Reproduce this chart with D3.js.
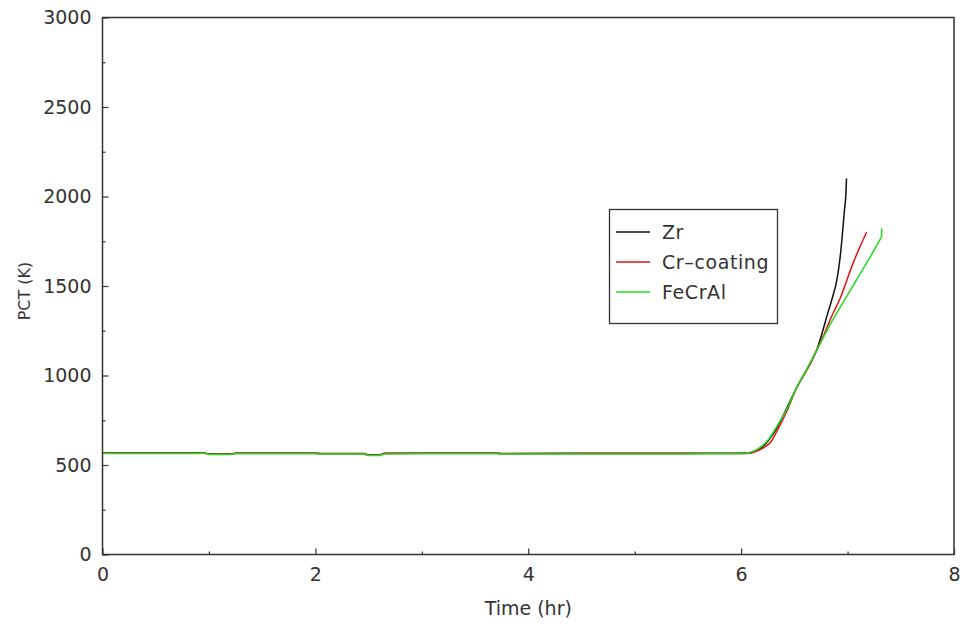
<!DOCTYPE html>
<html>
<head>
<meta charset="utf-8">
<script src="https://cdn.jsdelivr.net/npm/d3@7"></script>
<style>
  html, body { margin: 0; padding: 0; background: #fff; }
  svg { display: block; }
  text { font-family: "DejaVu Sans", sans-serif; fill: #333; }
</style>
</head>
<body>
<svg id="chart" width="963" height="626"></svg>
<script>
// ---- data ----
const seriesNames = ["Zr", "Cr\u2013coating", "FeCrAl"];
const seriesColors = ["#111111", "#dd1515", "#22dd22"];

const zrTime = [0, 0.5, 0.9, 0.95, 1.0, 1.2, 1.25, 2.0, 2.05, 2.45, 2.5, 2.6, 2.65, 3.0, 3.7, 3.75, 4.5, 5.0, 5.5, 6.0, 6.08, 6.15, 6.22, 6.3, 6.4, 6.52, 6.62, 6.71, 6.76, 6.81, 6.86, 6.90, 6.93, 6.95, 6.97, 6.985, 6.99];
const zrPCT  = [567, 567, 567, 569, 561, 561, 566, 566, 564, 564, 556, 556, 565, 566, 566, 564, 565, 565, 565, 566, 568, 582, 612, 672, 782, 930, 1035, 1142, 1235, 1340, 1440, 1535, 1660, 1780, 1920, 2020, 2100];

const crTime = [0, 0.5, 0.9, 0.95, 1.0, 1.2, 1.25, 2.0, 2.05, 2.45, 2.5, 2.6, 2.65, 3.0, 3.7, 3.75, 4.5, 5.0, 5.5, 6.0, 6.08, 6.15, 6.22, 6.28, 6.35, 6.43, 6.52, 6.62, 6.71, 6.78, 6.85, 6.93, 7.05, 7.11, 7.18];
const crPCT  = [566, 566, 566, 568, 560, 560, 565, 565, 563, 563, 555, 555, 564, 565, 565, 563, 564, 564, 564, 564, 565, 578, 600, 630, 705, 800, 930, 1035, 1142, 1230, 1330, 1430, 1625, 1710, 1802];

const feTime = [0, 0.5, 0.9, 0.95, 1.0, 1.2, 1.25, 2.0, 2.05, 2.45, 2.5, 2.6, 2.65, 3.0, 3.7, 3.75, 4.5, 5.0, 5.5, 6.0, 6.05, 6.12, 6.2, 6.26, 6.35, 6.43, 6.52, 6.62, 6.71, 6.85, 6.95, 7.05, 7.15, 7.24, 7.30, 7.318, 7.322];
const fePCT  = [564, 564, 564, 567, 559, 559, 563, 563, 561, 561, 553, 553, 562, 563, 563, 561, 562, 562, 562, 563, 566, 578, 608, 645, 730, 812, 930, 1040, 1140, 1300, 1400, 1500, 1600, 1690, 1755, 1775, 1822];

const xTicks = [0, 2, 4, 6, 8];
const xMinorTicks = [1, 3, 5, 7];
const yTicks = [0, 500, 1000, 1500, 2000, 2500, 3000];
const yMinorTicks = [250, 750, 1250, 1750, 2250, 2750];

const xLabel = "Time (hr)";
const yLabel = "PCT (K)";

// ---- layout ----
const svg = d3.select("#chart");
const mLeft = 102.5, mRight = 954, mTop = 17.5, mBottom = 554.5;

const x = d3.scaleLinear().domain([0, 8]).range([mLeft, mRight]);
const y = d3.scaleLinear().domain([0, 3000]).range([mBottom, mTop]);

const series = [
  { name: seriesNames[0], color: seriesColors[0], t: zrTime, v: zrPCT },
  { name: seriesNames[1], color: seriesColors[1], t: crTime, v: crPCT },
  { name: seriesNames[2], color: seriesColors[2], t: feTime, v: fePCT }
];

svg.append("defs").append("clipPath").attr("id", "clip")
  .append("rect").attr("x", mLeft).attr("y", mTop).attr("width", mRight - mLeft).attr("height", mBottom - mTop);

const line = d3.line().x(d => x(d[0])).y(d => y(d[1])).curve(d3.curveMonotoneX);

const g = svg.append("g").attr("clip-path", "url(#clip)");
series.forEach(s => {
  const pts = s.t.map((t, i) => [t, s.v[i]]);
  g.append("path").datum(pts)
    .attr("fill", "none")
    .attr("stroke", s.color)
    .attr("stroke-width", 1.5)
    .attr("stroke-linejoin", "round")
    .attr("d", line);
});

const axisColor = "#333";
const xAxis = svg.append("g").attr("transform", `translate(0,${mBottom})`)
  .call(d3.axisBottom(x).tickValues(xTicks).tickSize(-6).tickPadding(13).tickFormat(d3.format("d")));
const xAxisMinor = svg.append("g").attr("transform", `translate(0,${mBottom})`)
  .call(d3.axisBottom(x).tickValues(xMinorTicks).tickSize(-3).tickFormat(""));
const yAxis = svg.append("g").attr("transform", `translate(${mLeft},0)`)
  .call(d3.axisLeft(y).tickValues(yTicks).tickSize(-6).tickPadding(11).tickFormat(d3.format("d")));
const yAxisMinor = svg.append("g").attr("transform", `translate(${mLeft},0)`)
  .call(d3.axisLeft(y).tickValues(yMinorTicks).tickSize(-3).tickFormat(""));

[xAxis, xAxisMinor, yAxis, yAxisMinor].forEach(a => {
  a.select(".domain").remove();
  a.selectAll(".tick line").attr("stroke", axisColor).attr("stroke-width", 1.2);
  a.selectAll(".tick text").attr("font-size", 19).attr("fill", "#333")
    .style("font-family", "'DejaVu Sans', sans-serif");
});

svg.append("rect")
  .attr("x", mLeft).attr("y", mTop)
  .attr("width", mRight - mLeft).attr("height", mBottom - mTop)
  .attr("fill", "none").attr("stroke", axisColor).attr("stroke-width", 1.5);

svg.append("text")
  .attr("x", (mLeft + mRight) / 2).attr("y", 615)
  .attr("text-anchor", "middle").attr("font-size", 19)
  .text(xLabel);
svg.append("text")
  .attr("transform", `translate(30,${(mTop + mBottom) / 2 + 5}) rotate(-90)`)
  .attr("text-anchor", "middle").attr("font-size", 16)
  .text(yLabel);

const lg = svg.append("g");
lg.append("rect")
  .attr("x", 609.5).attr("y", 209.5).attr("width", 168).attr("height", 114)
  .attr("fill", "#fff").attr("stroke", axisColor).attr("stroke-width", 1.3);
const rowY = [232, 262, 292];
series.forEach((s, i) => {
  lg.append("line")
    .attr("x1", 616).attr("x2", 650)
    .attr("y1", rowY[i]).attr("y2", rowY[i])
    .attr("stroke", s.color).attr("stroke-width", 1.4);
  lg.append("text")
    .attr("x", 662).attr("y", rowY[i]).attr("dy", "0.35em")
    .attr("font-size", 19).attr("letter-spacing", 0.6)
    .text(s.name);
});
</script>
</body>
</html>
